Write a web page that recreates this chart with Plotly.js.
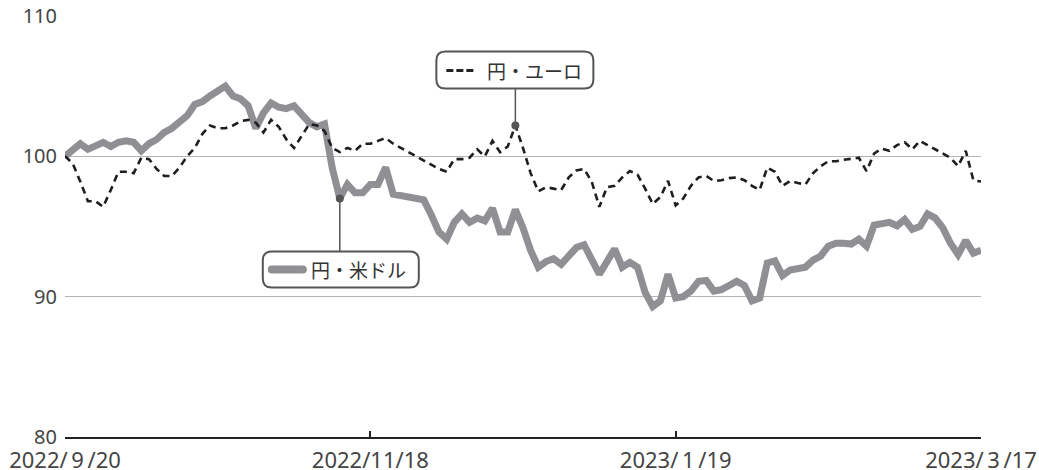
<!DOCTYPE html>
<html>
<head>
<meta charset="utf-8">
<script src="https://cdn.plot.ly/plotly-3.0.1.min.js"></script>
<style>html,body{margin:0;padding:0;background:#fff;}#chart{width:1039px;height:470px;}</style>
</head>
<body>
<div id="chart"></div>
<script>
// Tick labels (trading-day index positions 0, 40, 80, 120)
const tickPositions = [0, 40, 80, 120];
const tickLabels = ["2022/\u20099\u2009/20", "2022/11/18", "2023/\u20091\u2009/19", "2023/\u20093\u2009/17"];

// 円・米ドル (index, 2022/9/20 = 100)
const usdJpy = [
  100.0,100.4,100.9,100.5,100.8,101.0,100.7,101.0,101.1,101.0,
  100.4,100.9,101.2,101.7,102.0,102.5,102.9,103.7,103.9,104.3,
  104.6,105.0,104.3,104.1,103.6,102.0,103.1,103.8,103.5,103.4,
  103.6,102.9,102.4,102.1,102.3,99.2,97.0,98.0,97.4,97.4,
  98.0,98.0,99.2,97.3,97.2,97.2,97.1,96.9,95.8,94.6,
  94.1,95.3,95.9,95.3,95.6,95.4,96.3,94.6,94.6,96.2,
  94.9,93.3,92.1,92.5,92.7,92.3,92.9,93.5,93.7,92.7,
  91.6,92.5,93.4,92.1,92.45,92.1,90.3,89.3,89.7,91.6,
  89.9,90.0,90.4,91.1,91.15,90.4,90.5,90.8,91.1,90.8,
  89.7,89.9,92.4,92.55,91.5,91.9,92.0,92.1,92.6,92.9,
  93.6,93.8,93.8,93.75,94.1,93.6,95.1,95.2,95.3,95.05,
  95.5,94.8,95.0,95.9,95.6,94.9,93.8,93.0,94.0,93.1,
  93.3
];

// 円・ユーロ (index, 2022/9/20 = 100)
const eurJpy = [
  100.0,99.5,98.2,96.8,96.8,96.4,97.6,98.9,98.9,98.8,
  99.9,99.8,99.1,98.6,98.6,99.2,100.0,100.6,101.6,102.2,
  102.0,102.0,102.2,102.5,102.6,102.4,101.7,102.6,102.1,101.2,
  100.6,101.5,102.3,102.2,101.8,100.6,100.3,100.6,100.4,100.9,
  100.9,101.1,101.3,100.9,100.6,100.3,100.0,99.7,99.4,99.1,
  98.9,99.8,99.8,99.9,100.5,100.0,101.1,100.3,100.7,102.2,
  100.6,98.8,97.5,97.8,97.7,97.6,98.5,99.0,99.1,98.2,
  96.4,97.8,97.9,98.5,98.95,98.7,97.7,96.6,97.1,98.25,
  96.5,97.0,97.9,98.5,98.6,98.25,98.3,98.45,98.5,98.3,
  97.9,97.6,99.2,98.9,97.9,98.25,98.1,98.0,98.8,99.3,
  99.65,99.65,99.75,99.85,99.9,98.95,100.2,100.55,100.4,100.8,
  101.0,100.5,101.1,100.8,100.5,100.2,99.9,99.3,100.4,98.3,
  98.2
];

const usdLabel = "円・米ドル";
const eurLabel = "円・ユーロ";
const usdCallout = 36;   // index where the 円・米ドル callout points
const eurCallout = 59;   // index where the 円・ユーロ callout points

const xIdx = usdJpy.map((_, i) => i);
const CJK = "Noto Sans CJK JP, Noto Sans, sans-serif";
const LAT = "Noto Sans, Open Sans, sans-serif";
const BOX = "#555555";
const GRAY = "#8f8f94";

function roundRect(x0, x1, yb, yt, r) {
  return `M ${x0 + r},${yt} L ${x1 - r},${yt} Q ${x1},${yt} ${x1},${yt - r} ` +
         `L ${x1},${yb + r} Q ${x1},${yb} ${x1 - r},${yb} L ${x0 + r},${yb} ` +
         `Q ${x0},${yb} ${x0},${yb + r} L ${x0},${yt - r} Q ${x0},${yt} ${x0 + r},${yt} Z`;
}

function pixelShape(ix, val, extra) {
  return Object.assign({
    xref: "x", yref: "y", xsizemode: "pixel", ysizemode: "pixel",
    xanchor: ix, yanchor: val, layer: "above"
  }, extra);
}

const traces = [
  {
    x: xIdx, y: usdJpy, type: "scatter", mode: "lines", name: usdLabel,
    line: { color: GRAY, width: 7, shape: "linear" }, hoverinfo: "skip"
  },
  {
    x: xIdx, y: eurJpy, type: "scatter", mode: "lines", name: eurLabel,
    line: { color: "#1e1e1e", width: 2.6, dash: "7px,5px" }, hoverinfo: "skip"
  }
];

const uY = usdJpy[usdCallout], eY = eurJpy[eurCallout];

const shapes = [
  // USD callout
  pixelShape(usdCallout, uY, { type: "line", x0: 0, x1: 0, y0: 0, y1: -53, line: { color: BOX, width: 1.5 } }),
  pixelShape(usdCallout, uY, { type: "path", path: roundRect(-77, 79, -89, -53, 9), fillcolor: "#ffffff", line: { color: BOX, width: 2 } }),
  pixelShape(usdCallout, uY, { type: "path", path: "M -68,-67 L -37,-67 Q -33,-67 -33,-71 Q -33,-75 -37,-75 L -68,-75 Q -72,-75 -72,-71 Q -72,-67 -68,-67 Z", fillcolor: GRAY, line: { width: 0 } }),
  pixelShape(usdCallout, uY, { type: "circle", x0: -4, x1: 4, y0: -4, y1: 4, fillcolor: BOX, line: { width: 0 } }),
  // EUR callout
  pixelShape(eurCallout, eY, { type: "line", x0: 0, x1: 0, y0: 0, y1: 37, line: { color: BOX, width: 1.5 } }),
  pixelShape(eurCallout, eY, { type: "path", path: roundRect(-79, 78, 37, 74, 9), fillcolor: "#ffffff", line: { color: BOX, width: 2 } }),
  pixelShape(eurCallout, eY, { type: "line", x0: -69, x1: -42, y0: 55, y1: 55, line: { color: "#222222", width: 3, dash: "7px,3px" } }),
  pixelShape(eurCallout, eY, { type: "circle", x0: -4, x1: 4, y0: -4, y1: 4, fillcolor: BOX, line: { width: 0 } })
];

const annotations = [
  { x: usdCallout, y: uY, xref: "x", yref: "y", text: usdLabel, showarrow: false,
    xshift: 19, yshift: -71, font: { family: CJK, size: 19, color: "#333333" } },
  { x: eurCallout, y: eY, xref: "x", yref: "y", text: eurLabel, showarrow: false,
    xshift: 19, yshift: 55, font: { family: CJK, size: 19, color: "#333333" } }
];

const layout = {
  width: 1039, height: 470,
  margin: { l: 65, r: 58, t: 16, b: 33, pad: 0 },
  paper_bgcolor: "#ffffff", plot_bgcolor: "#ffffff",
  showlegend: false,
  font: { family: LAT, size: 20, color: "#444444" },
  xaxis: {
    range: [0, 120], tickmode: "array", tickvals: tickPositions, ticktext: tickLabels,
    showgrid: false, zeroline: false, showline: true, linecolor: "#222222", linewidth: 2,
    ticks: "inside", ticklen: 6, tickwidth: 2, tickcolor: "#222222",
    tickfont: { family: LAT, size: 22, color: "#444444" }, ticklabelstandoff: 3
  },
  yaxis: {
    range: [80, 110], tickmode: "array", tickvals: [80, 90, 100, 110],
    showgrid: true, gridcolor: "#b4b4b4", gridwidth: 1, zeroline: false, showline: false,
    ticks: "", tickfont: { family: LAT, size: 20, color: "#444444" }, ticklabelstandoff: 7
  },
  shapes: shapes,
  annotations: annotations
};

Plotly.newPlot("chart", traces, layout, { displayModeBar: false, staticPlot: true });
</script>
</body>
</html>
